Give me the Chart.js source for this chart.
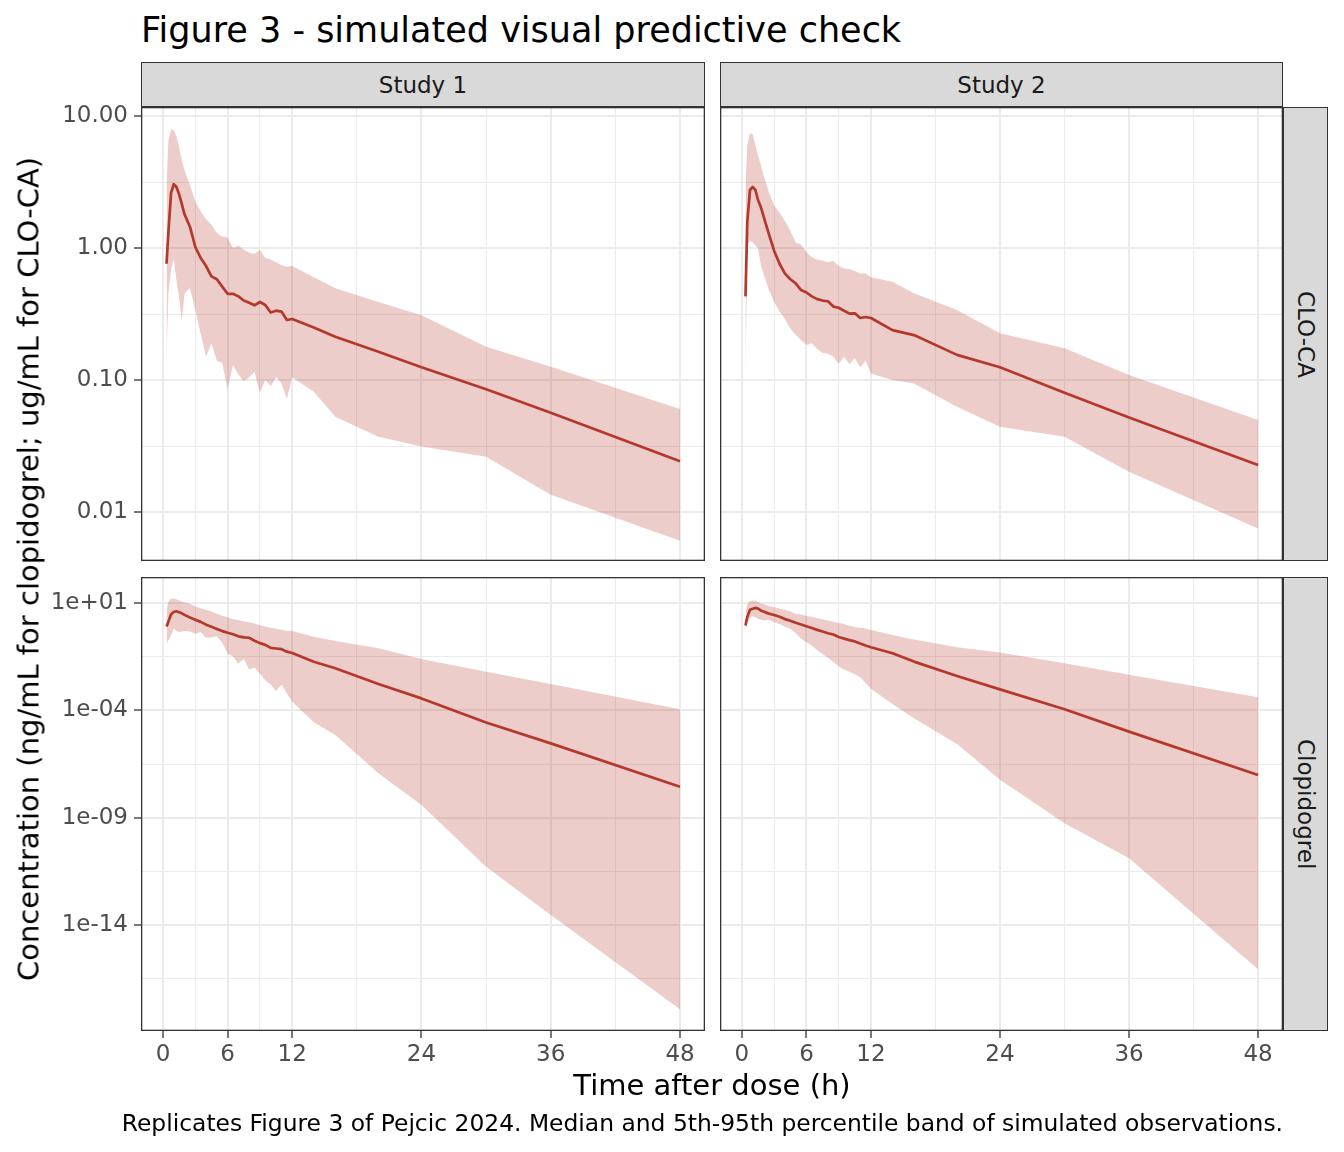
<!DOCTYPE html>
<html><head><meta charset="utf-8">
<script src="https://cdn.jsdelivr.net/npm/chart.js"></script>
<style>
html,body{margin:0;padding:0;background:#fff}
body{position:relative;width:1344px;height:1152px;overflow:hidden;font-family:'DejaVu Sans',sans-serif}
canvas{position:absolute}
.txt{position:absolute;white-space:nowrap;line-height:1}
.strip{position:absolute;box-sizing:border-box;background:#d9d9d9;border:1.3px solid #333;display:flex;align-items:center;justify-content:center;font-size:23px;color:#1a1a1a}
.vr{writing-mode:vertical-rl}
</style></head><body>
<canvas id="pA" width="705" height="474" style="left:0;top:87px"></canvas>
<canvas id="pB" width="563" height="474" style="left:720px;top:87px"></canvas>
<canvas id="pC" width="705" height="534" style="left:0;top:557px"></canvas>
<canvas id="pD" width="563" height="534" style="left:720px;top:557px"></canvas>
<div class="txt" style="left:141px;top:13px;font-size:35px;color:#000">Figure 3 - simulated visual predictive check</div>
<div class="strip" style="left:141px;top:62px;width:564px;height:45px">Study 1</div>
<div class="strip" style="left:720px;top:62px;width:563px;height:45px">Study 2</div>
<div class="strip" style="left:1283px;top:107px;width:45px;height:454px"><span class="vr">CLO-CA</span></div>
<div class="strip" style="left:1283px;top:577px;width:45px;height:454px"><span class="vr">Clopidogrel</span></div>
<div class="txt" style="left:141px;width:1142px;text-align:center;top:1071px;font-size:29px;color:#000">Time after dose (h)</div>
<div class="txt" style="left:29px;top:569px;font-size:29px;color:#000;transform:translate(-50%,-50%) rotate(-90deg)">Concentration (ng/mL for clopidogrel; ug/mL for CLO-CA)</div>
<div class="txt" style="right:61px;top:1112px;font-size:23.4px;color:#000">Replicates Figure 3 of Pejcic 2024. Median and 5th-95th percentile band of simulated observations.</div>
<script>
// ---- data ----
const times = [0.33,0.5,0.75,1,1.25,1.5,1.75,2,2.5,3,3.5,4,4.5,5,5.5,6,6.5,7,7.5,8,8.5,9,9.5,10,10.5,11,11.5,12,14,16,20,24,30,36,48];

const study1CloCaMedian = [0.76,1.3,2.6,3.05,2.9,2.55,2.15,1.8,1.45,1.02,0.84,0.73,0.61,0.58,0.51,0.45,0.45,0.43,0.40,0.385,0.368,0.39,0.37,0.325,0.335,0.33,0.285,0.29,0.25,0.213,0.164,0.125,0.085,0.0566,0.0242];
const study1CloCaUpper  = [3.0,6.5,7.9,7.8,7.0,5.8,4.6,3.9,3.0,2.25,1.9,1.65,1.5,1.3,1.22,1.2,1.0,1.04,0.97,0.92,0.9,0.97,0.84,0.82,0.78,0.74,0.72,0.73,0.6,0.495,0.39,0.31,0.179,0.126,0.0603];
const study1CloCaLower  = [0.14,0.45,0.68,0.83,0.57,0.42,0.28,0.45,0.5,0.34,0.224,0.15,0.19,0.14,0.135,0.085,0.13,0.11,0.098,0.105,0.115,0.08,0.1,0.09,0.105,0.095,0.072,0.105,0.0815,0.0527,0.0372,0.0313,0.0262,0.0135,0.00607];

const study2CloCaMedian = [0.43,1.6,2.75,2.9,2.75,2.3,2.05,1.75,1.28,0.95,0.76,0.64,0.58,0.54,0.48,0.46,0.43,0.41,0.40,0.395,0.36,0.353,0.335,0.318,0.32,0.295,0.30,0.295,0.239,0.219,0.155,0.125,0.080,0.052,0.0227];
const study2CloCaUpper  = [3.0,6.0,7.4,7.3,6.0,5.0,4.3,3.6,2.65,2.1,1.85,1.6,1.35,1.1,1.06,0.93,0.85,0.82,0.80,0.78,0.80,0.73,0.70,0.69,0.67,0.64,0.64,0.60,0.556,0.454,0.339,0.226,0.174,0.109,0.0498];
const study2CloCaLower  = [0.105,1.05,1.14,1.1,1.05,0.99,0.75,0.64,0.48,0.39,0.33,0.29,0.245,0.22,0.2,0.185,0.19,0.172,0.16,0.158,0.15,0.133,0.15,0.132,0.146,0.125,0.14,0.112,0.1,0.094,0.0628,0.0443,0.0372,0.0202,0.0075];

const study1ClopMedian = [0.81,1.35,3.0,3.8,4.1,3.7,3.3,2.8,2.1,1.66,1.32,0.98,0.78,0.62,0.49,0.41,0.35,0.28,0.25,0.24,0.174,0.135,0.112,0.081,0.076,0.071,0.054,0.047,0.0182,0.0091,0.0017,3.6e-4,2.7e-5,2.9e-6,2.75e-8];
const study1ClopUpper  = [4.0,11.2,15.8,15.8,15.1,13.2,11.5,10.5,9.3,6.8,5.75,4.8,4.0,3.16,2.57,2.14,1.74,1.58,1.41,1.26,1.1,0.93,0.81,0.71,0.63,0.56,0.5,0.5,0.27,0.17,0.078,0.0245,6.3e-3,1.7e-3,1.12e-4];
const study1ClopLower  = [0.126,0.178,0.32,0.63,0.5,0.44,0.47,0.5,0.47,0.37,0.45,0.24,0.25,0.28,0.14,0.044,0.032,0.0148,0.025,7.9e-3,0.01,5.0e-3,2.5e-3,1.6e-3,7.9e-4,1.6e-3,6.3e-4,2.5e-4,2.8e-5,7.1e-6,1.17e-7,3.9e-9,5.2e-12,2.95e-14,1.2e-18];

const study2ClopMedian = [0.89,2.24,4.8,5.4,5.9,5.5,4.5,4.0,3.2,2.75,2.3,1.78,1.48,1.2,1.0,0.83,0.69,0.56,0.47,0.39,0.34,0.26,0.22,0.186,0.162,0.129,0.105,0.087,0.0457,0.0186,3.98e-3,9.5e-4,1.12e-4,1.02e-5,9.8e-8];
const study2ClopUpper  = [3.16,8.9,12.3,13.2,12.9,11.2,9.5,8.9,7.2,6.3,5.5,4.8,4.0,3.1,2.9,2.45,2.3,1.95,1.74,1.55,1.35,1.17,1.05,0.87,0.76,0.71,0.65,0.55,0.32,0.2,0.087,0.05,0.0155,4.5e-3,4.1e-4];
const study2ClopLower  = [0.4,1.26,2.0,2.4,2.14,1.86,1.7,1.55,1.66,1.26,1.05,0.79,0.63,0.4,0.22,0.15,0.105,0.063,0.042,0.028,0.0178,0.0112,7.9e-3,6.3e-3,4.8e-3,3.5e-3,1.9e-3,1.0e-3,2.0e-4,4.3e-5,2.7e-6,5.8e-8,5.5e-10,1.29e-11,8.7e-17];

// ---- tick labels ----
const xMajorTicks = [0,6,12,24,36,48];
const xTickLabels = ['0','6','12','24','36','48'];
const xMinorTicks = [3,9,18,30,42];
const cloCaMajorTicks = [10,1,0.1,0.01];
const cloCaTickLabels = ['10.00','1.00','0.10','0.01'];
const cloCaMinorTicks = [3.1623,0.31623,0.031623];
const clopMajorTicks = [1e1,1e-4,1e-9,1e-14];
const clopTickLabels = ['1e+01','1e-04','1e-09','1e-14'];
const clopMinorTicks = [0.031623,3.1623e-7,3.1623e-12,3.1623e-17];

// ---- style ----
const LINE = '#b4382b';
const BAND = 'rgba(180,56,43,0.25)';
const GRID = '#ebebeb';
const X_RANGE = [-2.04, 50.32];
const CLOCA_RANGE = [0.004256, 11.70];
const CLOP_RANGE = [1.156e-19, 162.6];

const frame = {id:'frame', afterDraw(chart){
  const {ctx, chartArea:a} = chart;
  ctx.save(); ctx.strokeStyle='#333'; ctx.lineWidth=1.3;
  ctx.strokeRect(a.left+0.65, a.top+0.65, a.right-a.left-1.3, a.bottom-a.top-1.3);
  ctx.restore();
}};

function zeroPad(s){ s.paddingLeft=0; s.paddingRight=0; s.paddingTop=0; s.paddingBottom=0; }

function panel(id, cfg){
  const nXM = xMajorTicks.length, nYM = cfg.yMajor.length;
  const xTicks = xMajorTicks.concat(xMinorTicks);
  const yTicks = cfg.yMajor.concat(cfg.yMinor);
  const pts = arr => times.map((t,i)=>({x:t, y:arr[i]}));
  const font = {family:'DejaVu Sans', size:23};
  new Chart(document.getElementById(id), {
    type:'line',
    data:{datasets:[
      {data:pts(cfg.med), borderColor:LINE, borderWidth:2.7, pointRadius:0, fill:false, borderJoinStyle:'round', tension:0},
      {data:pts(cfg.up), borderColor:'rgba(0,0,0,0)', borderWidth:1, pointRadius:0, fill:'+1', backgroundColor:BAND, tension:0},
      {data:pts(cfg.lo), borderColor:'rgba(0,0,0,0)', borderWidth:1, pointRadius:0, fill:false, tension:0}
    ]},
    options:{
      responsive:false, animation:false, devicePixelRatio:1, events:[],
      layout:{padding:{top:20,left:0,right:0,bottom:0}},
      plugins:{legend:{display:false}, tooltip:{enabled:false}},
      scales:{
        x:{type:'linear', min:X_RANGE[0], max:X_RANGE[1], bounds:'data',
          afterBuildTicks:s=>{ s.ticks = xTicks.map(v=>({value:v})); },
          afterFit:s=>{ s.height = cfg.xLabels ? 60 : 0; zeroPad(s); },
          border:{display:false},
          grid:{color:GRID, lineWidth:c=>c.index<nXM?2:1, drawTicks:cfg.xLabels, tickLength:7,
                tickColor:c=>c.index<nXM?'#333':'rgba(0,0,0,0)', tickWidth:1.3},
          ticks:{display:cfg.xLabels, autoSkip:false, maxRotation:0, minRotation:0, padding:3, color:'#4d4d4d', font,
                 callback:(v,i)=> i<nXM ? xTickLabels[i] : ''}
        },
        y:{type:'logarithmic', min:cfg.yRange[0], max:cfg.yRange[1], bounds:'data',
          afterBuildTicks:s=>{ s.ticks = yTicks.map(v=>({value:v})); },
          afterFit:s=>{ s.width = cfg.yLabels ? 141 : 0; zeroPad(s); },
          border:{display:false},
          grid:{color:GRID, lineWidth:c=>c.index<nYM?2:1, drawTicks:cfg.yLabels, tickLength:7,
                tickColor:c=>c.index<nYM?'#333':'rgba(0,0,0,0)', tickWidth:1.3},
          ticks:{display:cfg.yLabels, autoSkip:false, padding:6, color:'#4d4d4d', font,
                 callback:(v,i)=> i<nYM ? cfg.yLabelText[i] : ''}
        }
      }
    },
    plugins:[frame]
  });
}

panel('pA', {med:study1CloCaMedian, up:study1CloCaUpper, lo:study1CloCaLower, yRange:CLOCA_RANGE,
  yMajor:cloCaMajorTicks, yMinor:cloCaMinorTicks, yLabelText:cloCaTickLabels, yLabels:true, xLabels:false});
panel('pB', {med:study2CloCaMedian, up:study2CloCaUpper, lo:study2CloCaLower, yRange:CLOCA_RANGE,
  yMajor:cloCaMajorTicks, yMinor:cloCaMinorTicks, yLabelText:cloCaTickLabels, yLabels:false, xLabels:false});
panel('pC', {med:study1ClopMedian, up:study1ClopUpper, lo:study1ClopLower, yRange:CLOP_RANGE,
  yMajor:clopMajorTicks, yMinor:clopMinorTicks, yLabelText:clopTickLabels, yLabels:true, xLabels:true});
panel('pD', {med:study2ClopMedian, up:study2ClopUpper, lo:study2ClopLower, yRange:CLOP_RANGE,
  yMajor:clopMajorTicks, yMinor:clopMinorTicks, yLabelText:clopTickLabels, yLabels:false, xLabels:true});
</script>
</body></html>
